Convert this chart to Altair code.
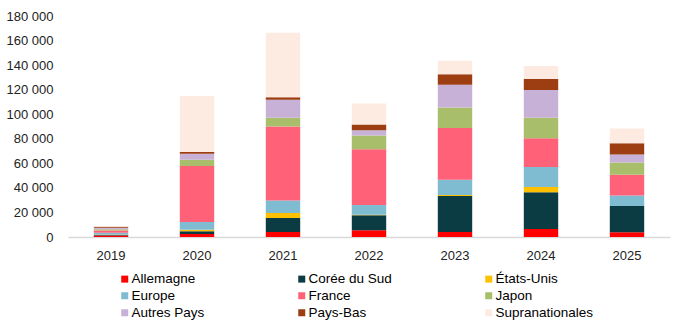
import altair as alt
import pandas as pd

years = ["2019", "2020", "2021", "2022", "2023", "2024", "2025"]
series = ["Allemagne", "Corée du Sud", "États-Unis", "Europe", "France",
          "Japon", "Autres Pays", "Pays-Bas", "Supranationales"]
colors = ["#FF0000", "#0B3B43", "#FFC000", "#7FBCD2", "#FF6179",
          "#A9BE6A", "#C8B1D6", "#9C3D12", "#FDEBE1"]

allemagne = [1200, 2500, 4000, 5500, 4000, 6500, 3800]
coree = [600, 2100, 11500, 12200, 29400, 29900, 21400]
etats_unis = [300, 1400, 4000, 500, 800, 4300, 0]
europe = [1300, 6200, 10300, 7900, 12500, 16300, 8500]
france = [1800, 45600, 60300, 45400, 42100, 23400, 17100]
japon = [1200, 5200, 7000, 11100, 16600, 16800, 9800]
autres = [1200, 4900, 14700, 4400, 18700, 22500, 6500]
pays_bas = [700, 1300, 2100, 4600, 8400, 9000, 9200]
supra = [400, 45600, 52400, 17100, 11100, 10600, 12000]

values = [allemagne, coree, etats_unis, europe, france, japon, autres, pays_bas, supra]

rows = []
for si, (name, vals) in enumerate(zip(series, values)):
    for y, v in zip(years, vals):
        rows.append({"annee": y, "serie": name, "valeur": v, "ordre": si})
df = pd.DataFrame(rows)

font = "Liberation Sans"

chart = alt.Chart(df).mark_bar().encode(
    x=alt.X("annee:N", title=None, sort=years,
            scale=alt.Scale(paddingInner=0.6, paddingOuter=0.3),
            axis=alt.Axis(labelAngle=0, ticks=False, domain=True, domainColor="#D9D9D9",
                          domainWidth=1.5, labelFont=font, labelFontSize=13,
                          labelColor="#222222", labelPadding=12)),
    y=alt.Y("valeur:Q", title=None, stack="zero",
            scale=alt.Scale(domain=[0, 180000], nice=False),
            axis=alt.Axis(values=list(range(0, 180001, 20000)), grid=False, ticks=False,
                          domain=False, labelFont=font, labelFontSize=13,
                          labelColor="#222222", labelPadding=15,
                          labelExpr="replace(format(datum.value, ','), ',', ' ')")),
    color=alt.Color("serie:N", sort=series,
                    scale=alt.Scale(domain=series, range=colors),
                    legend=alt.Legend(title=None, orient="none", legendX=50, legendY=256,
                                      columns=3, direction="horizontal", gridAlign="each",
                                      columnPadding=90, rowPadding=2,
                                      symbolType="square", symbolSize=49,
                                      symbolStrokeWidth=0, symbolOffset=0,
                                      labelOffset=0, labelFont=font, labelFontSize=13.5,
                                      labelColor="#000000", labelLimit=200)),
    order=alt.Order("ordre:Q", sort="ascending"),
).properties(
    width=602, height=221,
    autosize=alt.AutoSizeParams(type="none"),
    padding={"left": 68, "top": 16, "right": 3, "bottom": 87},
).configure_view(stroke=None)

chart.save("out.html", embed_options={"renderer": "svg", "actions": False})
